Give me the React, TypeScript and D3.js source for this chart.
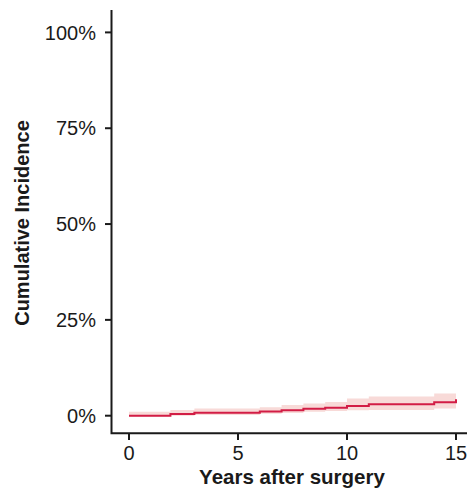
import React, { useEffect, useRef } from 'react'
import * as d3 from 'd3'

// step times (years) and cumulative incidence (%)
const years = [0, 1.9, 3, 6, 7, 8, 9, 10, 11, 14, 15]
const incidence = [0, 0.45, 0.8, 1.1, 1.4, 1.8, 2.05, 2.55, 3.0, 3.5, 4.3]
const upperCI = [1.0, 1.5, 1.9, 2.2, 2.8, 3.2, 3.6, 4.5, 5.0, 5.8, 5.8]
const lowerCI = [-0.2, 0, 0.2, 0.5, 0.7, 1.0, 1.2, 1.4, 1.5, 1.9, 1.9]

const xTicks = [0, 5, 10, 15]
const yTicks = [0, 25, 50, 75, 100]

const W = 469
const H = 498

export default function App() {
  const ref = useRef<SVGSVGElement>(null)

  useEffect(() => {
    const svg = d3.select(ref.current)
    svg.selectAll('*').remove()

    const x = d3.scaleLinear().domain([0, 15]).range([129, 456])
    const y = d3.scaleLinear().domain([0, 100]).range([415.7, 32.4])
    const font = 'Liberation Sans, Arial, Helvetica, sans-serif'
    const ink = '#1a1a1a'

    const rows = years.map((t, i) => ({ t, v: incidence[i], lo: lowerCI[i], hi: upperCI[i] }))

    // confidence band
    const band = d3.area<any>()
      .curve(d3.curveStepAfter)
      .x(d => x(d.t))
      .y0(d => y(d.lo))
      .y1(d => y(d.hi))
    svg.append('path').datum(rows).attr('d', band).attr('fill', '#f8dad8')

    // estimate
    const line = d3.line<any>()
      .curve(d3.curveStepAfter)
      .x(d => x(d.t))
      .y(d => y(d.v))
    svg.append('path').datum(rows).attr('d', line)
      .attr('fill', 'none').attr('stroke', '#d21d45').attr('stroke-width', 2)

    // axes
    const axisY = 433.3
    const axisX = 111.5
    svg.append('path')
      .attr('d', `M${axisX},10V${axisY}H467`)
      .attr('fill', 'none').attr('stroke', ink).attr('stroke-width', 2)

    const yg = svg.append('g')
    yTicks.forEach(v => {
      yg.append('line').attr('x1', 105).attr('x2', axisX).attr('y1', y(v)).attr('y2', y(v))
        .attr('stroke', ink).attr('stroke-width', 2)
      yg.append('text').attr('x', 96).attr('y', y(v)).attr('dy', '0.36em')
        .attr('text-anchor', 'end').attr('font-family', font).attr('font-size', 20)
        .attr('fill', ink).text(`${v}%`)
    })

    const xg = svg.append('g')
    xTicks.forEach(v => {
      xg.append('line').attr('x1', x(v)).attr('x2', x(v)).attr('y1', axisY).attr('y2', 440)
        .attr('stroke', ink).attr('stroke-width', 2)
      xg.append('text').attr('x', x(v)).attr('y', 460)
        .attr('text-anchor', 'middle').attr('font-family', font).attr('font-size', 20)
        .attr('fill', ink).text(v)
    })

    svg.append('text').attr('x', 292).attr('y', 484)
      .attr('text-anchor', 'middle').attr('font-family', font).attr('font-size', 20.5)
      .attr('font-weight', 'bold').attr('fill', ink).text('Years after surgery')

    svg.append('text').attr('transform', 'translate(29,223) rotate(-90)')
      .attr('text-anchor', 'middle').attr('font-family', font).attr('font-size', 20)
      .attr('font-weight', 'bold').attr('fill', ink).text('Cumulative Incidence')
  }, [])

  return (
    <svg ref={ref} width={W} height={H}
      style={{ position: 'absolute', left: 0, top: 0, background: '#fff' }} />
  )
}
